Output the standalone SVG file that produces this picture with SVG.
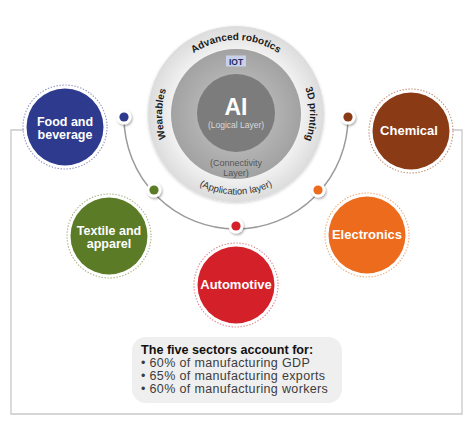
<svg xmlns="http://www.w3.org/2000/svg" width="474" height="430" viewBox="0 0 474 430">
<defs>
<radialGradient id="gOuter" cx="50%" cy="50%" r="50%">
<stop offset="0.7" stop-color="#f4f4f4"/>
<stop offset="1" stop-color="#dcdcdc"/>
</radialGradient>
<radialGradient id="gMid" cx="50%" cy="50%" r="50%">
<stop offset="0.6" stop-color="#b2b2b2"/>
<stop offset="1" stop-color="#a2a2a2"/>
</radialGradient>
<filter id="sh" x="-50%" y="-50%" width="200%" height="200%">
<feDropShadow dx="1" dy="1.5" stdDeviation="1.2" flood-color="#000" flood-opacity="0.35"/>
</filter>
<filter id="sh2" x="-20%" y="-20%" width="140%" height="140%">
<feDropShadow dx="0" dy="1" stdDeviation="1.5" flood-color="#000" flood-opacity="0.2"/>
</filter>
<path id="pTop" d="M162,114 A74,74 0 0 1 310,114"/>
<path id="pLeft" d="M183.7,166.3 A74,74 0 0 1 183.7,61.7"/>
<path id="pRight" d="M288.3,61.7 A74,74 0 0 1 288.3,166.3"/>
<path id="pBot" d="M155.5,114 A80.5,80.5 0 0 0 316.5,114"/>
</defs>
<style>
.node-t{font-family:"Liberation Sans",Arial,sans-serif;font-weight:bold;fill:#fff;text-anchor:middle}
.ring{fill:none;stroke-width:1.1;stroke-dasharray:1.4 1.6}
.lbl{font-family:"Liberation Sans",Arial,sans-serif;font-weight:bold;font-size:10px;fill:#1a1a1a}
.dotw{fill:#fff;filter:url(#sh)}
.body{font-family:"Liberation Sans",Arial,sans-serif;font-size:12.5px;letter-spacing:0.35px;fill:#3c3c3c}
</style>
<rect width="474" height="430" fill="#fff"/>

<g id="connectors">
<path d="M24,130 H11 V414 H462 V130 H452" fill="none" stroke="#c9c9c9" stroke-width="1.3"/>
<path d="M124,117 A112,112 0 0 0 348,117" fill="none" stroke="#9a9a9a" stroke-width="1.5"/>
<circle class="dotw" cx="124" cy="117" r="7.5"/><circle cx="124" cy="117" r="4.6" fill="#2e3a8e"/>
<circle class="dotw" cx="154" cy="190" r="7.5"/><circle cx="154" cy="190" r="4.6" fill="#5c7b26"/>
<circle class="dotw" cx="236" cy="226" r="7.5"/><circle cx="236" cy="226" r="4.6" fill="#d42029"/>
<circle class="dotw" cx="318" cy="190" r="7.5"/><circle cx="318" cy="190" r="4.6" fill="#ec6b1d"/>
<circle class="dotw" cx="348" cy="117" r="7.5"/><circle cx="348" cy="117" r="4.6" fill="#8a3a14"/>
</g>

<g id="core">
<circle cx="236" cy="114" r="88" fill="url(#gOuter)" filter="url(#sh2)"/>
<circle cx="236" cy="114" r="65" fill="url(#gMid)"/>
<circle cx="236" cy="113" r="39" fill="#7c7c7c"/>
<rect x="226" y="55.5" width="20" height="11" fill="#c9d1ea"/>
<text x="236" y="64.5" font-family="'Liberation Sans',Arial,sans-serif" font-weight="bold" font-size="8.5" fill="#1d2a60" text-anchor="middle">IOT</text>
<text x="236" y="115" font-family="'Liberation Sans',Arial,sans-serif" font-weight="bold" font-size="23" fill="#fff" text-anchor="middle">AI</text>
<text x="236" y="128" font-family="'Liberation Sans',Arial,sans-serif" font-size="8.5" fill="#d9d9d9" text-anchor="middle">(Logical Layer)</text>
<text x="236" y="166" font-family="'Liberation Sans',Arial,sans-serif" font-size="9" fill="#555" text-anchor="middle">(Connectivity</text>
<text x="236" y="175.5" font-family="'Liberation Sans',Arial,sans-serif" font-size="9" fill="#555" text-anchor="middle">Layer)</text>
<text class="lbl"><textPath href="#pTop" startOffset="50%" text-anchor="middle">Advanced robotics</textPath></text>
<text class="lbl"><textPath href="#pLeft" startOffset="50%" text-anchor="middle">Wearables</textPath></text>
<text class="lbl"><textPath href="#pRight" startOffset="50%" text-anchor="middle">3D printing</textPath></text>
<text font-family="'Liberation Sans',Arial,sans-serif" font-size="9.5" fill="#333"><textPath href="#pBot" startOffset="50%" text-anchor="middle">(Application layer)</textPath></text>
</g>

<g id="food-beverage">
<circle cx="65" cy="127" r="42" class="ring" stroke="#8d93bd"/>
<circle cx="65" cy="127" r="38.5" fill="#2e3a8e"/>
<text class="node-t" x="65" y="126" font-size="12.5">Food and</text>
<text class="node-t" x="65" y="139" font-size="12.5">beverage</text>
</g>

<g id="textile-apparel">
<circle cx="109" cy="236" r="42" class="ring" stroke="#a4b382"/>
<circle cx="109" cy="236" r="38.5" fill="#5c7b26"/>
<text class="node-t" x="109" y="235" font-size="12.5">Textile and</text>
<text class="node-t" x="109" y="248" font-size="12.5">apparel</text>
</g>

<g id="automotive">
<circle cx="236" cy="285" r="42" class="ring" stroke="#e0868a"/>
<circle cx="236" cy="285" r="38.5" fill="#d42029"/>
<text class="node-t" x="236" y="288.5" font-size="13">Automotive</text>
</g>

<g id="electronics">
<circle cx="367" cy="235" r="42" class="ring" stroke="#f0a877"/>
<circle cx="367" cy="235" r="38.5" fill="#ec6b1d"/>
<text class="node-t" x="367" y="239" font-size="13">Electronics</text>
</g>

<g id="chemical">
<circle cx="411" cy="131" r="42" class="ring" stroke="#bf8f77"/>
<circle cx="411" cy="131" r="38.5" fill="#8a3a14"/>
<text class="node-t" x="409" y="134.5" font-size="13">Chemical</text>
</g>

<g id="info">
<rect x="132" y="337" width="210" height="66" rx="14" fill="#efefef"/>
<text x="141" y="354" font-family="'Liberation Sans',Arial,sans-serif" font-weight="bold" font-size="12.6" fill="#111">The five sectors account for:</text>
<text class="body" x="141" y="367">• 60% of manufacturing GDP</text>
<text class="body" x="141" y="380">• 65% of manufacturing exports</text>
<text class="body" x="141" y="393">• 60% of manufacturing workers</text>
</g>
</svg>
